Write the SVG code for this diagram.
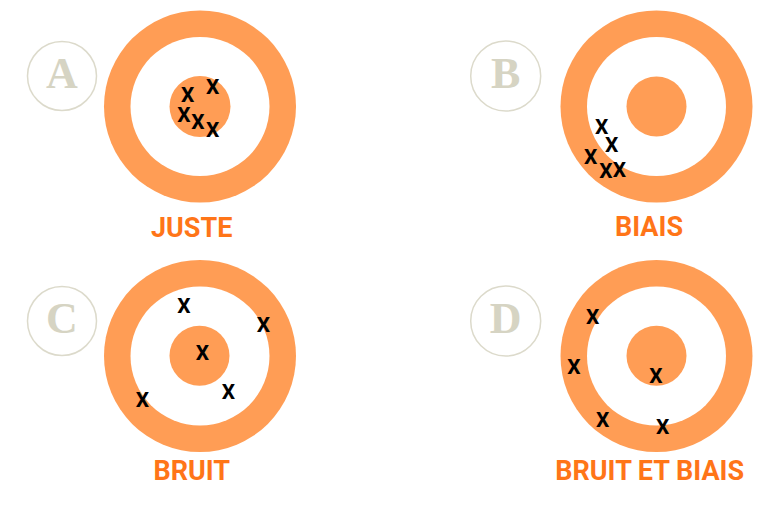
<svg xmlns="http://www.w3.org/2000/svg" width="775" height="506" viewBox="0 0 775 506">
<style>
.ring{fill:#FF9D55}
.hole{fill:#FFFFFF}
.bull{fill:#FF9D55}
.badge{fill:#FFFFFF;stroke:#DCDACB;stroke-width:1.5}
.letter{font-family:"Liberation Serif","DejaVu Serif",serif;font-weight:bold;font-size:44px;fill:#D6D4C3;text-anchor:middle}
.x{font-family:Roboto,"Liberation Sans",sans-serif;font-weight:bold;font-size:21px;fill:#000000;text-anchor:middle}
.label{font-family:Roboto,"Liberation Sans",sans-serif;font-weight:bold;font-size:27px;fill:#FF7518;text-anchor:middle}
</style>
<rect width="775" height="506" fill="#FFFFFF"/>
<g id="A">
<circle class="badge" cx="62" cy="76" r="34.5"/>
<text class="letter" x="62" y="88">A</text>
<circle class="ring" cx="200" cy="106.5" r="96"/>
<circle class="hole" cx="200" cy="106.5" r="69.5"/>
<circle class="bull" cx="200" cy="106.5" r="30.5"/>
<text class="x" x="187.7" y="101.8">X</text>
<text class="x" x="212.7" y="93.5">X</text>
<text class="x" x="184" y="121.5">X</text>
<text class="x" x="198" y="128.5">X</text>
<text class="x" x="212.7" y="136.8">X</text>
<text class="label" x="191.7" y="236.7">JUSTE</text>
</g>
<g id="B">
<circle class="badge" cx="505.7" cy="76" r="35"/>
<text class="letter" x="505.7" y="88">B</text>
<circle class="ring" cx="656.5" cy="106.5" r="96"/>
<circle class="hole" cx="656.5" cy="106.5" r="69.5"/>
<circle class="bull" cx="656.5" cy="106.5" r="30"/>
<text class="x" x="601.7" y="133.5">X</text>
<text class="x" x="611.7" y="151.8">X</text>
<text class="x" x="590.7" y="164.2">X</text>
<text class="x" x="606" y="177.5">X</text>
<text class="x" x="619.3" y="176.8">X</text>
<text class="label" x="649" y="236">BIAIS</text>
</g>
<g id="C">
<circle class="badge" cx="62" cy="321" r="34.5"/>
<text class="letter" x="62" y="333">C</text>
<circle class="ring" cx="200" cy="356" r="96"/>
<circle class="hole" cx="200" cy="356" r="69.5"/>
<circle class="bull" cx="199.5" cy="355.7" r="30"/>
<text class="x" x="184" y="313.2">X</text>
<text class="x" x="263.3" y="331.5">X</text>
<text class="x" x="202.3" y="359.8">X</text>
<text class="x" x="228.3" y="398.5">X</text>
<text class="x" x="142.3" y="406.8">X</text>
<text class="label" x="191.7" y="480">BRUIT</text>
</g>
<g id="D">
<circle class="badge" cx="505.7" cy="321" r="35"/>
<text class="letter" x="505.7" y="333">D</text>
<circle class="ring" cx="656.5" cy="356" r="96"/>
<circle class="hole" cx="656.5" cy="356" r="69.5"/>
<circle class="bull" cx="656.5" cy="355.7" r="30"/>
<text class="x" x="592.7" y="323.5">X</text>
<text class="x" x="574" y="374.2">X</text>
<text class="x" x="656" y="382.5">X</text>
<text class="x" x="602.7" y="426.5">X</text>
<text class="x" x="662.7" y="434.2">X</text>
<text class="label" x="649.7" y="480">BRUIT ET BIAIS</text>
</g>
<g id="connectors"></g>
</svg>
